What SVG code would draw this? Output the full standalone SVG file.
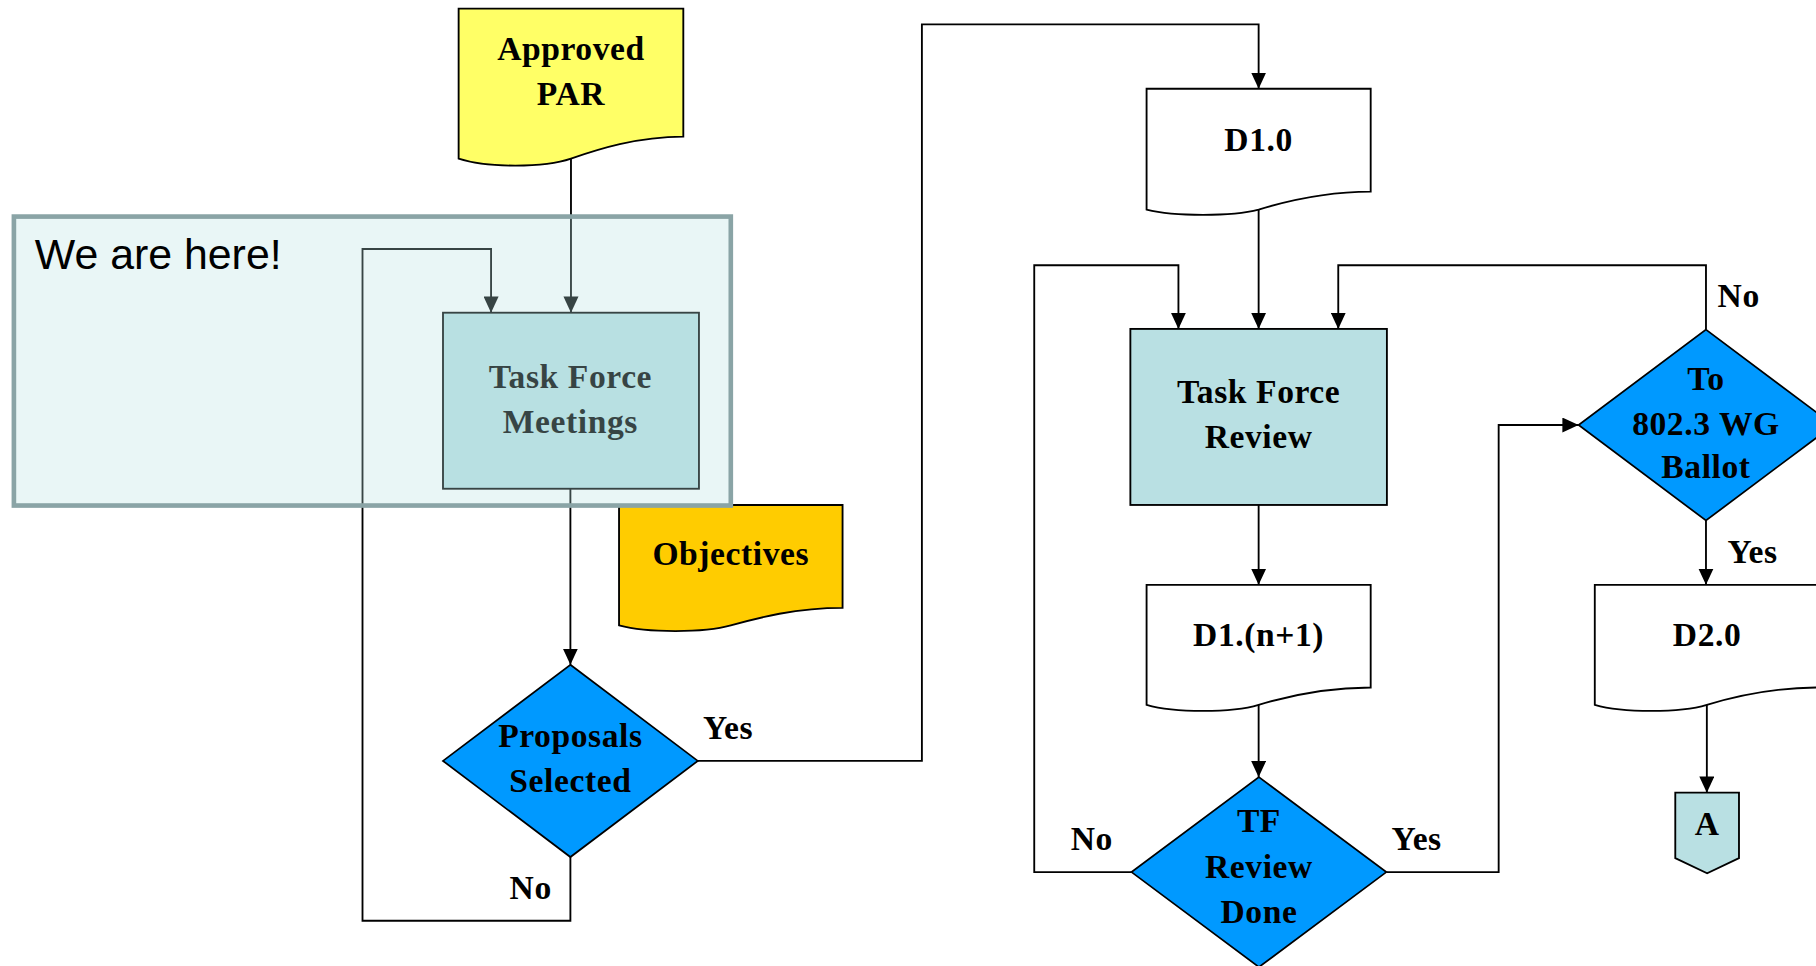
<svg xmlns="http://www.w3.org/2000/svg" width="1816" height="966" viewBox="0 0 1816 966">
<style>
.lbl{font-family:"Liberation Serif","Times New Roman",serif;font-weight:bold;font-size:29px;letter-spacing:0.5px;fill:#000;text-anchor:middle}
.st{text-anchor:start}
.doc{stroke:#000;stroke-width:1.6}
.box{fill:#B9E0E3;stroke:#000;stroke-width:1.6}
.dia{fill:#0099FF;stroke:#000;stroke-width:1.5}
.con{fill:none;stroke:#000;stroke-width:1.6}
.con path{marker-end:url(#arr)}
</style>
<defs>
<marker id="arr" markerUnits="userSpaceOnUse" markerWidth="14" markerHeight="13" refX="14" refY="6.5" orient="auto">
<path d="M0,0 L14,6.5 L0,13 Z" fill="#000"/>
</marker>
</defs>
<rect width="1816" height="966" fill="#fff"/>
<g transform="scale(1.158163)">
<g id="connectors" class="con">
<path d="M493,137 V270"/>
<path d="M492.5,422 V574"/>
<path d="M492.5,740 V795 H313 V215 H424 V270"/>
<path d="M602.5,657 H796 V21 H1086.75 V76.6"/>
<path d="M1086.75,181 V284"/>
<path d="M977,753 H893 V229 H1017.5 V284"/>
<path d="M1473,284.6 V229 H1155.5 V284"/>
<path d="M1086.75,436 V505"/>
<path d="M1086.75,608.6 V671"/>
<path d="M1197,753 H1294 V367 H1363"/>
<path d="M1473,449.4 V505"/>
<path d="M1473.75,608.6 V684.4"/>
</g>
<g id="approved-par">
<path class="doc" fill="#FFFF66" d="M396,7.5 H590 V118 C550,118 516,129 493,137 C470,145 420,145 396,137 Z"/>
<text class="lbl" x="493" y="52">Approved</text>
<text class="lbl" x="493" y="91">PAR</text>
</g>
<g id="tf-meetings">
<rect class="box" x="382.5" y="270" width="221" height="152"/>
<text class="lbl" x="492.5" y="335">Task Force</text>
<text class="lbl" x="492.5" y="374">Meetings</text>
</g>
<g id="objectives">
<path class="doc" fill="#FFCC00" d="M534.5,436 H727.5 V524.8 C687.7,524.8 654,533.5 631,540 C608,546.5 558.4,546.5 534.5,540 Z"/>
<text class="lbl" x="631" y="488">Objectives</text>
</g>
<g id="proposals-selected">
<polygon class="dia" points="492.5,574 602.5,657 492.5,740 382.5,657"/>
<text class="lbl" x="492.5" y="645">Proposals</text>
<text class="lbl" x="492.5" y="684">Selected</text>
</g>
<g id="labels-left">
<text class="lbl st" x="607" y="638">Yes</text>
<text class="lbl st" x="440" y="776">No</text>
</g>
<g id="d1-0">
<path class="doc" fill="#fff" d="M990,76.6 H1183.5 V165.5 C1143.6,165.5 1109.75,174 1086.75,181 C1063.75,187 1014,187 990,181 Z"/>
<text class="lbl" x="1086.75" y="130">D1.0</text>
</g>
<g id="tf-review">
<rect class="box" x="976" y="284" width="221.5" height="152"/>
<text class="lbl" x="1086.75" y="348">Task Force</text>
<text class="lbl" x="1086.75" y="387">Review</text>
</g>
<g id="d1-n1">
<path class="doc" fill="#fff" d="M990,505 H1183.5 V593.6 C1143.6,593.6 1109.75,601.6 1086.75,608.6 C1063.75,615.6 1014,615.6 990,608.6 Z"/>
<text class="lbl" x="1086.75" y="558">D1.(n+1)</text>
</g>
<g id="tf-review-done">
<polygon class="dia" points="1087,671 1197,753 1087,835 977,753"/>
<text class="lbl" x="1087" y="718">TF</text>
<text class="lbl" x="1087" y="758">Review</text>
<text class="lbl" x="1087" y="797">Done</text>
<text class="lbl st" x="924.5" y="734">No</text>
<text class="lbl st" x="1201.5" y="734">Yes</text>
</g>
<g id="ballot">
<polygon class="dia" points="1473,284.6 1583,367 1473,449.4 1363,367"/>
<text class="lbl" x="1473" y="337">To</text>
<text class="lbl" x="1473" y="376" letter-spacing="0">802.3 WG</text>
<text class="lbl" x="1473" y="413">Ballot</text>
<text class="lbl st" x="1483" y="265">No</text>
<text class="lbl st" x="1491.5" y="486">Yes</text>
</g>
<g id="d2-0">
<path class="doc" fill="#fff" d="M1377,505 H1570.5 V593.6 C1530.6,593.6 1496.75,601.6 1473.75,608.6 C1450.75,615.6 1401,615.6 1377,608.6 Z"/>
<text class="lbl" x="1474" y="558">D2.0</text>
</g>
<g id="offpage-a">
<polygon class="box" points="1446.5,684.4 1501.5,684.4 1501.5,741 1474,754 1446.5,741"/>
<text class="lbl" x="1474" y="721">A</text>
</g>
<g id="we-are-here">
<rect x="12" y="187" width="619" height="249.5" fill="#B5E0E0" fill-opacity="0.3" stroke="#8AA4A6" stroke-width="4"/>
<text x="30" y="232" font-family="Liberation Sans, Arial, sans-serif" font-size="37" fill="#000">We are here!</text>
</g>
</g>
</svg>
